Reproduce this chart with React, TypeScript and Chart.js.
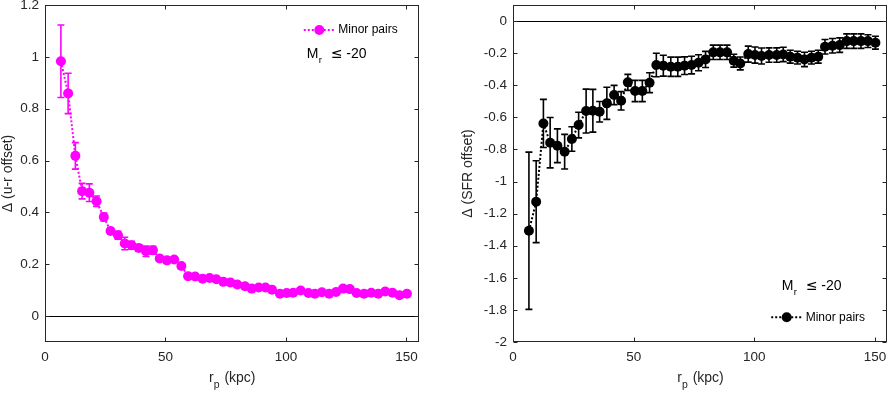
import React, { useEffect, useRef } from "react";
import { Chart, registerables } from "chart.js";

Chart.register(...registerables);

// ---------- data ----------
const rp = [
  6.6, 9.6, 12.6, 15.4, 18.4, 21.4, 24.4, 27.2, 30.3, 33.1,
  35.9, 38.9, 41.9, 44.8, 47.6, 50.6, 53.6, 56.6, 59.4, 62.3,
  65.4, 68.3, 71.1, 74.0, 76.9, 79.8, 83.0, 85.8, 88.7, 91.5,
  94.2, 97.5, 100.3, 103.0, 106.1, 109.3, 112.0, 114.9, 117.9, 120.8,
  123.7, 126.5, 129.3, 132.4, 135.4, 138.3, 141.2, 144.2, 147.1, 150.2,
];

const urOffset = [
  0.983, 0.859, 0.618, 0.482, 0.476, 0.443, 0.382, 0.328, 0.312, 0.28,
  0.273, 0.263, 0.25, 0.254, 0.222, 0.215, 0.218, 0.193, 0.154, 0.153,
  0.144, 0.147, 0.142, 0.132, 0.13, 0.122, 0.115, 0.106, 0.11, 0.11,
  0.102, 0.086, 0.089, 0.09, 0.099, 0.089, 0.086, 0.092, 0.086, 0.093,
  0.106, 0.104, 0.089, 0.086, 0.09, 0.086, 0.095, 0.09, 0.08, 0.086,
];

const urErr = [
  0.14, 0.078, 0.051, 0.03, 0.034, 0.02, 0.015, 0.012, 0.015, 0.024,
  0.015, 0.012, 0.02, 0.015, 0.01, 0.01, 0.01, 0.01, 0.008, 0.008,
  0.008, 0.008, 0.008, 0.008, 0.008, 0.008, 0.007, 0.007, 0.007, 0.007,
  0.007, 0.007, 0.007, 0.007, 0.007, 0.007, 0.007, 0.007, 0.007, 0.007,
  0.007, 0.007, 0.007, 0.007, 0.007, 0.007, 0.007, 0.007, 0.007, 0.007,
];

const sfrOffset = [
  -1.307, -1.126, -0.638, -0.758, -0.777, -0.814, -0.735, -0.648, -0.561, -0.559,
  -0.565, -0.513, -0.461, -0.497, -0.382, -0.436, -0.436, -0.384, -0.274, -0.278,
  -0.285, -0.285, -0.278, -0.274, -0.26, -0.239, -0.195, -0.195, -0.195, -0.247,
  -0.264, -0.206, -0.212, -0.218, -0.212, -0.212, -0.208, -0.222, -0.228, -0.239,
  -0.228, -0.222, -0.16, -0.154, -0.15, -0.125, -0.125, -0.125, -0.125, -0.135,
];

const sfrErr = [
  0.49, 0.255, 0.15, 0.157, 0.105, 0.108, 0.076, 0.08, 0.137, 0.133,
  0.064, 0.1, 0.06, 0.057, 0.05, 0.066, 0.066, 0.062, 0.073, 0.065,
  0.06, 0.06, 0.055, 0.055, 0.05, 0.05, 0.045, 0.045, 0.045, 0.04,
  0.04, 0.05, 0.05, 0.05, 0.045, 0.045, 0.045, 0.04, 0.04, 0.045,
  0.04, 0.04, 0.045, 0.045, 0.045, 0.045, 0.045, 0.045, 0.04, 0.04,
];

const xTicks = [0, 50, 100, 150];
const urTicks = [0, 0.2, 0.4, 0.6, 0.8, 1, 1.2];
const sfrTicks = [-2, -1.8, -1.6, -1.4, -1.2, -1, -0.8, -0.6, -0.4, -0.2, 0];

const legendLabel = "Minor pairs";
const magLabel = { main: "M", sub: "r", rel: "\u2264", value: "-20" };
const xTitle = { main: "r", sub: "p", rest: " (kpc)" };

// ---------- styling ----------
const FONT = "'Liberation Sans', Arial, Helvetica, sans-serif";
const AXIS_COLOR = "#262626";
const W = 444;
const H = 393;

type PanelCfg = {
  values: number[];
  errs: number[];
  color: string;
  yMin: number;
  yMax: number;
  yTicks: number[];
  yTitle: string;
  yTitlePad: number;
  yAxisWidth: number;
  padRight: number;
  legend: { x: number; y: number };
  mag: { x: number; y: number };
};

const panels: PanelCfg[] = [
  {
    values: urOffset,
    errs: urErr,
    color: "#ff00ff",
    yMin: -0.1,
    yMax: 1.2,
    yTicks: urTicks,
    yTitle: "\u0394 (u-r offset)",
    yTitlePad: 0,
    yAxisWidth: 45,
    padRight: 25.5,
    legend: { x: 319.3, y: 30 },
    mag: { x: 306.7, y: 58.3 },
  },
  {
    values: sfrOffset,
    errs: sfrErr,
    color: "#000000",
    yMin: -2,
    yMax: 0.1,
    yTicks: sfrTicks,
    yTitle: "\u0394 (SFR offset)",
    yTitlePad: 15.5,
    yAxisWidth: 69,
    padRight: 1,
    legend: { x: 342.7, y: 317.3 },
    mag: { x: 337.7, y: 290 },
  },
];

const fmt = (v: number) => {
  if (Math.abs(v) < 1e-9) return "0";
  return String(parseFloat(v.toFixed(1)));
};

function drawXTitle(ctx: CanvasRenderingContext2D, cx: number, baseline: number) {
  ctx.save();
  ctx.fillStyle = AXIS_COLOR;
  ctx.textBaseline = "alphabetic";
  ctx.textAlign = "left";
  ctx.font = `14px ${FONT}`;
  const w1 = ctx.measureText(xTitle.main).width;
  const w3 = ctx.measureText(xTitle.rest).width;
  ctx.font = `10.5px ${FONT}`;
  const w2 = ctx.measureText(xTitle.sub).width;
  let sx = cx - (w1 + w2 + w3) / 2;
  ctx.font = `14px ${FONT}`;
  ctx.fillText(xTitle.main, sx, baseline);
  sx += w1;
  ctx.font = `10.5px ${FONT}`;
  ctx.fillText(xTitle.sub, sx, baseline + 6);
  sx += w2 + 1;
  ctx.font = `14px ${FONT}`;
  ctx.fillText(xTitle.rest, sx, baseline);
  ctx.restore();
}

function drawMag(ctx: CanvasRenderingContext2D, x: number, baseline: number) {
  ctx.save();
  ctx.fillStyle = "#000";
  ctx.textBaseline = "alphabetic";
  ctx.textAlign = "left";
  let sx = x;
  ctx.font = `14px ${FONT}`;
  ctx.fillText(magLabel.main, sx, baseline);
  sx += ctx.measureText(magLabel.main).width + 0.5;
  ctx.font = `9.5px ${FONT}`;
  ctx.fillText(magLabel.sub, sx, baseline + 5);
  sx += ctx.measureText(magLabel.sub).width + 9;
  ctx.font = `14px 'DejaVu Sans', ${FONT}`;
  ctx.fillText(magLabel.rel, sx, baseline);
  sx += ctx.measureText(magLabel.rel).width + 3.5;
  ctx.font = `14px ${FONT}`;
  ctx.fillText(magLabel.value, sx, baseline);
  ctx.restore();
}

function makeDecor(cfg: PanelCfg) {
  return {
    id: "panelDecor",
    beforeDatasetsDraw(chart: any) {
      const { ctx, chartArea, scales } = chart;
      const xs = scales.x;
      const ys = scales.y;
      // zero line
      const y0 = Math.round(ys.getPixelForValue(0)) + 0.5;
      ctx.save();
      ctx.strokeStyle = "#000";
      ctx.lineWidth = 1;
      ctx.beginPath();
      ctx.moveTo(chartArea.left, y0);
      ctx.lineTo(chartArea.right, y0);
      ctx.stroke();
      // error bars
      ctx.strokeStyle = cfg.color;
      ctx.lineWidth = 1.6;
      ctx.setLineDash([]);
      rp.forEach((r, i) => {
        const px = xs.getPixelForValue(r);
        const top = ys.getPixelForValue(cfg.values[i] + cfg.errs[i]);
        const bot = ys.getPixelForValue(cfg.values[i] - cfg.errs[i]);
        ctx.beginPath();
        ctx.moveTo(px, top);
        ctx.lineTo(px, bot);
        ctx.moveTo(px - 3.5, top);
        ctx.lineTo(px + 3.5, top);
        ctx.moveTo(px - 3.5, bot);
        ctx.lineTo(px + 3.5, bot);
        ctx.stroke();
      });
      ctx.restore();
    },
    afterDraw(chart: any) {
      const { ctx, chartArea, scales } = chart;
      const xs = scales.x;
      const ys = scales.y;
      const L = Math.round(chartArea.left) + 0.5;
      const R = Math.round(chartArea.right) - 0.5;
      const T = Math.round(chartArea.top) + 0.5;
      const B = Math.round(chartArea.bottom) - 0.5;
      ctx.save();
      ctx.strokeStyle = AXIS_COLOR;
      ctx.lineWidth = 1;
      ctx.strokeRect(L, T, R - L, B - T);
      ctx.beginPath();
      xTicks.forEach((v) => {
        const px = Math.round(xs.getPixelForValue(v)) + 0.5;
        ctx.moveTo(px, B);
        ctx.lineTo(px, B - 4);
        ctx.moveTo(px, T);
        ctx.lineTo(px, T + 4);
      });
      cfg.yTicks.forEach((v) => {
        const py = Math.round(ys.getPixelForValue(v)) + 0.5;
        ctx.moveTo(L, py);
        ctx.lineTo(L + 4, py);
        ctx.moveTo(R, py);
        ctx.lineTo(R - 4, py);
      });
      ctx.stroke();
      ctx.restore();

      drawXTitle(ctx, (chartArea.left + chartArea.right) / 2, 382);
      drawMag(ctx, cfg.mag.x, cfg.mag.y);

      // legend
      const lx = cfg.legend.x;
      const ly = cfg.legend.y;
      ctx.save();
      ctx.strokeStyle = cfg.color;
      ctx.lineWidth = 2;
      ctx.setLineDash([2, 2]);
      ctx.beginPath();
      ctx.moveTo(lx - 15.5, ly);
      ctx.lineTo(lx + 15.5, ly);
      ctx.stroke();
      ctx.setLineDash([]);
      ctx.fillStyle = cfg.color;
      ctx.beginPath();
      ctx.arc(lx, ly, 5, 0, Math.PI * 2);
      ctx.fill();
      ctx.fillStyle = "#000";
      ctx.font = `12px ${FONT}`;
      ctx.textAlign = "left";
      ctx.textBaseline = "middle";
      ctx.fillText(legendLabel, lx + 19, ly);
      ctx.restore();
    },
  };
}

function Panel({ cfg, left }: { cfg: PanelCfg; left: number }) {
  const ref = useRef<HTMLCanvasElement | null>(null);
  useEffect(() => {
    if (!ref.current) return;
    const chart = new Chart(ref.current, {
      type: "scatter",
      data: {
        datasets: [
          {
            label: legendLabel,
            data: rp.map((x, i) => ({ x, y: cfg.values[i] })),
            showLine: true,
            borderColor: cfg.color,
            borderWidth: 2,
            borderDash: [2, 2],
            pointRadius: 5,
            pointHoverRadius: 5,
            pointBackgroundColor: cfg.color,
            pointBorderColor: cfg.color,
            pointBorderWidth: 0,
            tension: 0,
          } as any,
        ],
      },
      options: {
        responsive: false,
        animation: false,
        devicePixelRatio: 1,
        events: [],
        layout: {
          padding: { top: 5, right: cfg.padRight, bottom: 0, left: 0 },
          autoPadding: false,
        } as any,
        plugins: {
          legend: { display: false },
          tooltip: { enabled: false },
        },
        scales: {
          x: {
            type: "linear",
            min: 0,
            max: 155,
            grid: { display: false, drawTicks: false },
            border: { display: false },
            ticks: {
              padding: 7,
              color: AXIS_COLOR,
              font: { family: FONT, size: 13.5 },
              maxRotation: 0,
              autoSkip: false,
              callback: (v: any) => String(v),
            },
            afterBuildTicks: (s: any) => {
              s.ticks = xTicks.map((value) => ({ value }));
            },
            afterFit: (s: any) => {
              s.height = 51;
              s.paddingLeft = 0;
              s.paddingRight = 0;
              s.paddingTop = 0;
              s.paddingBottom = 0;
            },
          },
          y: {
            type: "linear",
            min: cfg.yMin,
            max: cfg.yMax,
            grid: { display: false, drawTicks: false },
            border: { display: false },
            title: {
              display: true,
              text: cfg.yTitle,
              color: AXIS_COLOR,
              font: { family: FONT, size: 14 },
              padding: { top: cfg.yTitlePad, bottom: 0 },
            },
            ticks: {
              padding: 6,
              color: AXIS_COLOR,
              font: { family: FONT, size: 13.5 },
              autoSkip: false,
              callback: (v: any) => fmt(Number(v)),
            },
            afterBuildTicks: (s: any) => {
              s.ticks = cfg.yTicks.map((value) => ({ value }));
            },
            afterFit: (s: any) => {
              s.width = cfg.yAxisWidth;
              s.paddingLeft = 0;
              s.paddingRight = 0;
              s.paddingTop = 0;
              s.paddingBottom = 0;
            },
          },
        },
      } as any,
      plugins: [makeDecor(cfg)],
    });
    return () => chart.destroy();
  }, [cfg]);
  return (
    <canvas
      ref={ref}
      width={W}
      height={H}
      style={{ position: "absolute", left, top: 0, width: W, height: H, display: "block" }}
    />
  );
}

export default function App() {
  return (
    <div
      style={{
        position: "fixed",
        left: 0,
        top: 0,
        width: 888,
        height: 393,
        background: "#fff",
        overflow: "hidden",
      }}
    >
      <Panel cfg={panels[0]} left={0} />
      <Panel cfg={panels[1]} left={444} />
    </div>
  );
}
